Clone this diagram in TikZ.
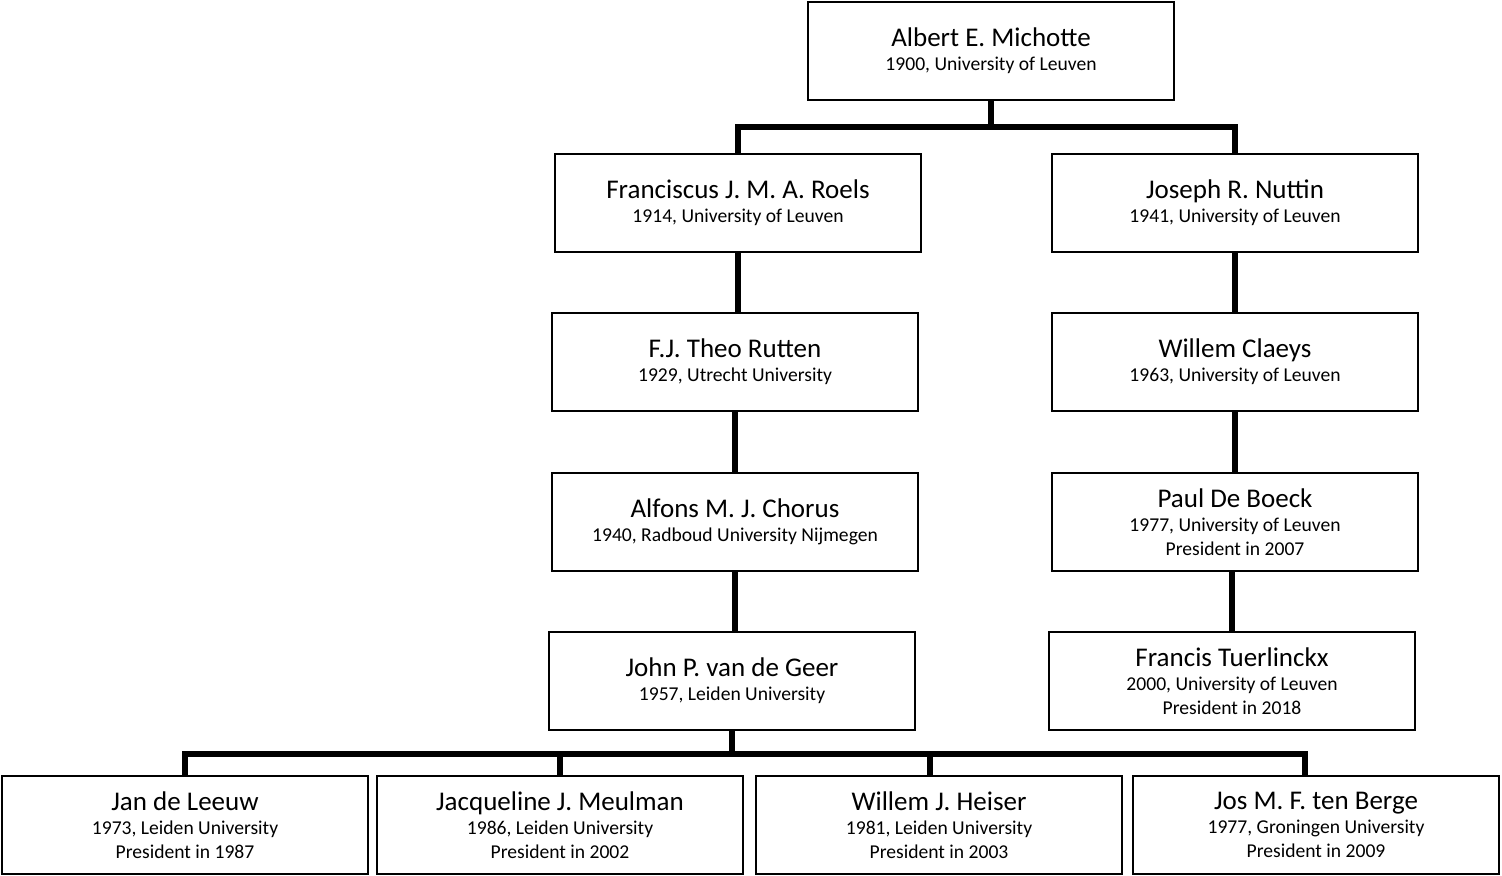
\documentclass[tikz,border=0pt]{standalone}
\usepackage{fontspec}
\setmainfont{Carlito}
\begin{document}
\begin{tikzpicture}[x=0.5pt,y=-0.5pt,
  box/.style={draw,line width=1.1pt,minimum width=183pt,minimum height=49pt,align=center,inner sep=1pt},
  conn/.style={line width=3pt}]
\newcommand{\nmtxt}[1]{{\fontsize{13.5}{15}\selectfont #1}}
\newcommand{\sbtxt}[1]{{\fontsize{9.8}{12.5}\selectfont #1}}
\useasboundingbox (0,0) rectangle (1502,876);
\node[box] (mich) at (991,51) {\nmtxt{Albert E. Michotte}\\\sbtxt{1900, University of Leuven}};
\node[box] (roels) at (738,203) {\nmtxt{Franciscus J. M. A. Roels}\\\sbtxt{1914, University of Leuven}};
\node[box] (nuttin) at (1235,203) {\nmtxt{Joseph R. Nuttin}\\\sbtxt{1941, University of Leuven}};
\node[box] (rutten) at (735,362) {\nmtxt{F.J. Theo Rutten}\\\sbtxt{1929, Utrecht University}};
\node[box] (claeys) at (1235,362) {\nmtxt{Willem Claeys}\\\sbtxt{1963, University of Leuven}};
\node[box] (chorus) at (735,522) {\nmtxt{Alfons M. J. Chorus}\\\sbtxt{1940, Radboud University Nijmegen}};
\node[box] (boeck) at (1235,522) {\nmtxt{Paul De Boeck}\\\sbtxt{1977, University of Leuven}\\\sbtxt{President in 2007}};
\node[box] (geer) at (732,681) {\nmtxt{John P. van de Geer}\\\sbtxt{1957, Leiden University}};
\node[box] (tuer) at (1232,681) {\nmtxt{Francis Tuerlinckx}\\\sbtxt{2000, University of Leuven}\\\sbtxt{President in 2018}};
\node[box] (leeuw) at (185,825) {\nmtxt{Jan de Leeuw}\\\sbtxt{1973, Leiden University}\\\sbtxt{President in 1987}};
\node[box] (meul) at (560,825) {\nmtxt{Jacqueline J. Meulman}\\\sbtxt{1986, Leiden University}\\\sbtxt{President in 2002}};
\node[box] (heiser) at (939,825) {\nmtxt{Willem J. Heiser}\\\sbtxt{1981, Leiden University}\\\sbtxt{President in 2003}};
\node[box] (berge) at (1316,825) {\nmtxt{Jos M. F. ten Berge}\\\sbtxt{1977, Groningen University}\\\sbtxt{President in 2009}};
\draw[conn] (mich.south) -- ++(0,26) coordinate (t);
\draw[conn] (roels.north) |- (t) -| (nuttin.north);
\draw[conn] (roels.south) -- (roels.south |- rutten.north);
\draw[conn] (rutten.south) -- (rutten.south |- chorus.north);
\draw[conn] (chorus.south) -- (chorus.south |- geer.north);
\draw[conn] (nuttin.south) -- (nuttin.south |- claeys.north);
\draw[conn] (claeys.south) -- (claeys.south |- boeck.north);
\draw[conn] (tuer.north) -- (tuer.north |- boeck.south);
\draw[conn] (geer.south) -- ++(0,23) coordinate (b);
\draw[conn] (leeuw.north) |- (b) -| ([xshift=-5.5pt]berge.north);
\draw[conn] (meul.north) -- (meul.north |- b);
\draw[conn] ([xshift=-4.5pt]heiser.north) -- ([xshift=-4.5pt]heiser.north |- b);
\end{tikzpicture}
\end{document}
